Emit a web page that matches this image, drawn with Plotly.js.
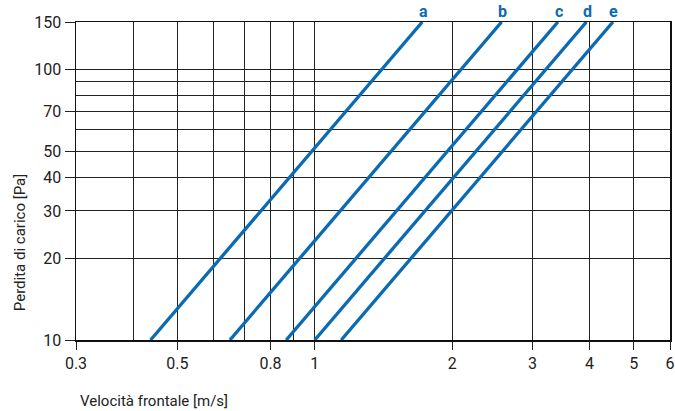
<!DOCTYPE html>
<html>
<head>
<meta charset="utf-8">
<script src="https://cdn.plot.ly/plotly-3.0.1.min.js"></script>
<style>html,body{margin:0;padding:0;background:#fff;}#chart{width:675px;height:411px;}</style>
</head>
<body>
<div id="chart"></div>
<script>
// Curve names
const curveNames = ["a", "b", "c", "d", "e"];
// Frontal velocity [m/s] at the low end (10 Pa) and high end (150 Pa) of each curve
const velocityAt10Pa = [0.437, 0.652, 0.866, 1.0, 1.143];
const velocityAt150Pa = [1.72, 2.566, 3.409, 3.936, 4.499];
// Pressure drop [Pa] at the two ends
const pressureEnds = [10, 150];

// Axis ticks
const xTickVals = [0.3, 0.5, 0.8, 1, 2, 3, 4, 5, 6];
const xTickText = ["0.3", "0.5", "0.8", "1", "2", "3", "4", "5", "6"];
const xMinorGrid = [0.4, 0.6, 0.7, 0.9];
const yTickVals = [10, 20, 30, 40, 50, 70, 100, 150];
const yTickText = ["10", "20", "30", "40", "50", "70", "100", "150"];
const yMinorGrid = [60, 80, 90];

const FONT = "Roboto, 'Liberation Sans Narrow', 'DejaVu Sans Condensed', sans-serif";
const BLUE = "#0a6ab2";

const traces = curveNames.map((n, i) => ({
  type: "scatter",
  mode: "lines",
  name: n,
  x: [velocityAt10Pa[i], velocityAt150Pa[i]],
  y: pressureEnds,
  line: {color: BLUE, width: 3.3},
  hoverinfo: "x+y+name"
}));

const annotations = curveNames.map((n, i) => ({
  text: "<b>" + n + "</b>",
  x: Math.log10(velocityAt150Pa[i]),
  xref: "x",
  y: 1,
  yref: "paper",
  yanchor: "bottom",
  xanchor: "center",
  yshift: -1,
  xshift: 1,
  showarrow: false,
  font: {family: FONT, size: 16, color: BLUE}
}));
annotations.push({
  text: "Perdita di carico [Pa]",
  textangle: -90,
  xref: "paper", yref: "paper",
  x: -0.094, y: 0.305,
  xanchor: "center", yanchor: "middle",
  showarrow: false,
  font: {family: FONT, size: 15, color: "#222"}
});
annotations.push({
  text: "Velocità frontale [m/s]",
  xref: "paper", yref: "paper",
  x: 0.003, y: -0.192,
  xanchor: "left", yanchor: "middle",
  showarrow: false,
  font: {family: FONT, size: 15, color: "#222"}
});

const layout = {
  width: 675,
  height: 411,
  margin: {l: 76, r: 5, t: 22, b: 71},
  paper_bgcolor: "#fff",
  plot_bgcolor: "#fff",
  showlegend: false,
  font: {family: FONT, size: 16, color: "#222"},
  xaxis: {
    type: "log",
    range: [Math.log10(0.3), Math.log10(6)],
    tickmode: "array",
    tickvals: xTickVals,
    ticktext: xTickText,
    ticks: "outside",
    ticklen: 8,
    tickcolor: "#222",
    tickwidth: 1,
    showgrid: true,
    gridcolor: "#222",
    gridwidth: 1,
    showline: true,
    mirror: true,
    linecolor: "#111",
    linewidth: 1.5,
    tickfont: {family: FONT, size: 16, color: "#222"},
    minor: {tickmode: "array", tickvals: xMinorGrid, showgrid: true, gridcolor: "#222", gridwidth: 1, ticks: ""},
    fixedrange: true
  },
  yaxis: {
    type: "log",
    range: [1, Math.log10(150)],
    tickmode: "array",
    tickvals: yTickVals,
    ticktext: yTickText,
    ticks: "outside",
    ticklen: 10,
    tickcolor: "#222",
    tickwidth: 1,
    showgrid: true,
    gridcolor: "#222",
    gridwidth: 1,
    showline: true,
    mirror: true,
    linecolor: "#111",
    linewidth: 1.5,
    tickfont: {family: FONT, size: 16, color: "#222"},
    minor: {tickmode: "array", tickvals: yMinorGrid, showgrid: true, gridcolor: "#222", gridwidth: 1, ticks: ""},
    fixedrange: true
  },
  annotations: annotations
};

Plotly.newPlot("chart", traces, layout, {displayModeBar: false, staticPlot: true});
</script>
</body>
</html>
